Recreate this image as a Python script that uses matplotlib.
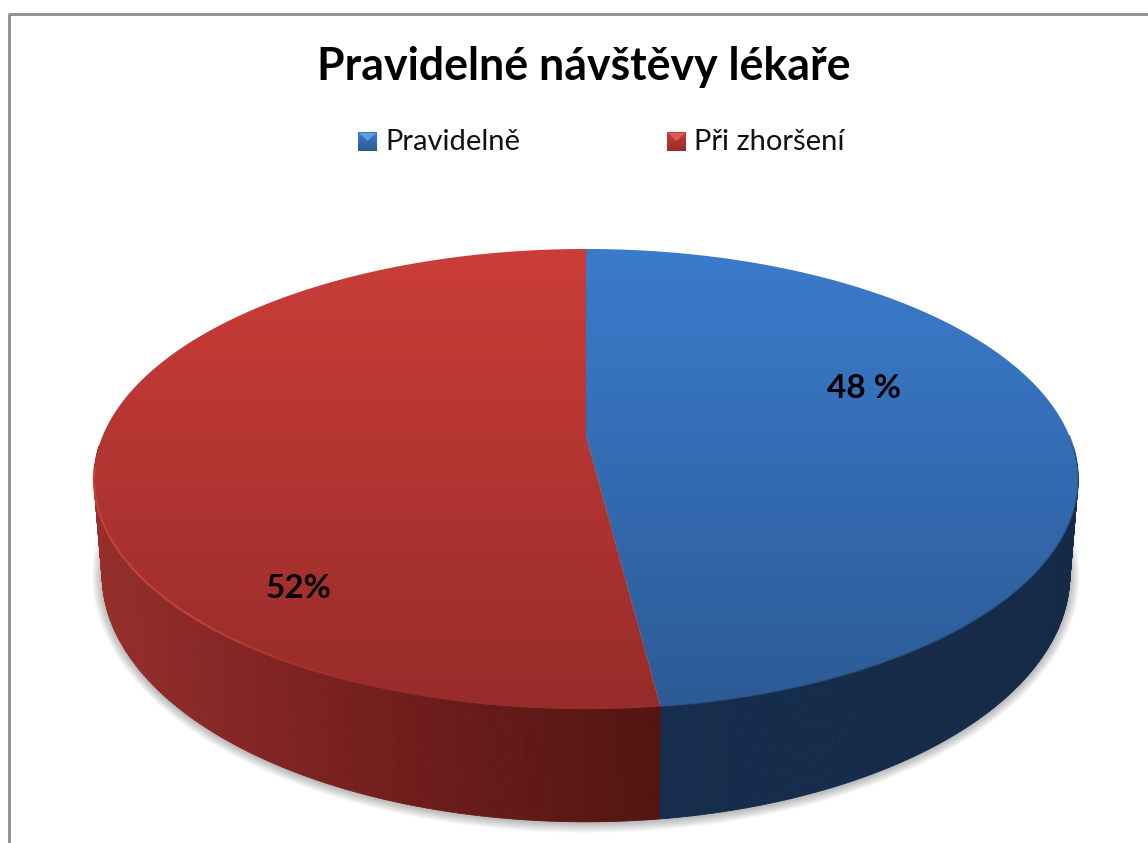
import numpy as np
import matplotlib
matplotlib.use("Agg")
import matplotlib.pyplot as plt
from matplotlib.collections import LineCollection, PolyCollection
from matplotlib.colors import LinearSegmentedColormap, to_rgb
from matplotlib.patches import Polygon

TITLE = "Pravidelné návštěvy lékaře"
CATEGORIES = ["Pravidelně", "Při zhoršení"]
VALUES = [48, 52]
VALUE_LABELS = ["48 %", "52%"]

W, H = 1148, 843
FONT = "Lato"

# top face / rim geometry in pixels, projective so the slice line lands right
TOP = dict(cx=586, cy=436, a=483.4, b=222, k=0.187)
BOT = dict(cx=586, cy=528, a=475, b=238, k=0.19)

TOP_COLORS = [("#3B7BCC", "#2C5B96"), ("#CB3D39", "#972C2A")]
SIDE_STOPS = [
    [(657, "#162D4D"), (1075, "#142A47")],
    [(95, "#962F2B"), (250, "#832624"), (420, "#6E1D1B"), (657, "#521512")],
]
LABEL_POS = [(864, 389), (298, 588)]
LEGEND_X = [358, 667]
LEGEND_LIGHT = ["#5F9BDF", "#DE5A56"]


def rim(theta, g):
    """Point on the disc edge, theta clockwise from the back of the pie."""
    u, v = np.sin(theta), -np.cos(theta)
    d = 1 - g["k"] * v
    return np.column_stack([g["cx"] + g["a"] * u / d, g["cy"] + g["b"] * v / d])


def grad_fill(ax, patch, colors, extent, zorder, vertical=True):
    ax.add_patch(patch)
    patch.set_visible(False)
    cmap = LinearSegmentedColormap.from_list("g", colors)
    z = np.linspace(0, 1, 256)
    z = z[:, None] if vertical else z[None, :]
    im = ax.imshow(z, cmap=cmap, extent=extent, aspect="auto", zorder=zorder,
                   vmin=0, vmax=1, interpolation="bilinear")
    im.set_clip_path(patch)


fig = plt.figure(figsize=(W / 100, H / 100), dpi=100)
ax = fig.add_axes([0, 0, 1, 1])
ax.axis("off")

# ---- frame (only top and left show in the crop)
ax.plot([8.5, 8.5, W + 2], [H + 2, 14, 14], color="#8C8C8C", lw=2, zorder=1)

# ---- slices
edges = np.cumsum([0] + VALUES) / sum(VALUES) * 2 * np.pi
all_t = np.linspace(0, 2 * np.pi, 721)

# soft shadow under the base
bottom = rim(all_t, BOT)
for grow in np.linspace(10, 1, 10):
    sx = (bottom[:, 0] - 586) * (1 + grow / 484) + 586
    sy = (bottom[:, 1] - 575) * (1 + grow / 247) + 575 + 1
    ax.add_patch(Polygon(np.column_stack([sx, sy]), closed=True, fc="black",
                         ec="none", alpha=0.028, zorder=2))

for i, val in enumerate(VALUES):
    ts = np.linspace(edges[i], edges[i + 1], int(val * 8))
    # side wall, one quad per step, shaded by x
    t_pts, b_pts = rim(ts, TOP), rim(ts, BOT)
    xs, cols = [c[0] for c in SIDE_STOPS[i]], [c[1] for c in SIDE_STOPS[i]]
    rgb = np.array([to_rgb(c) for c in cols])
    quads, fc = [], []
    for j in range(len(ts) - 1):
        if np.cos(ts[j]) > -0.05:  # back of the pie, hidden by the top face
            continue
        quads.append([t_pts[j], t_pts[j + 1], b_pts[j + 1], b_pts[j]])
        mx = (b_pts[j, 0] + b_pts[j + 1, 0]) / 2
        fc.append([np.interp(mx, xs, rgb[:, n]) for n in range(3)])
    ax.add_collection(PolyCollection(quads, facecolors=fc, edgecolors=fc,
                                     linewidths=0.6, zorder=3))

for i, val in enumerate(VALUES):
    ts = np.linspace(edges[i], edges[i + 1], int(val * 8))
    pts = np.vstack([[TOP["cx"], TOP["cy"]], rim(ts, TOP)])
    grad_fill(ax, Polygon(pts, closed=True, transform=ax.transData), TOP_COLORS[i],
              (80, 1090, 712, 247), zorder=4)

# bevel on the red edge, fading toward the front
ts = np.linspace(np.radians(200), np.radians(262), 120)
p = rim(ts, TOP)
segs = np.stack([p[:-1], p[1:]], axis=1)
fade = np.clip((ts[:-1] - ts[0]) / np.radians(25), 0, 1)
seg_cols = [(0.81, 0.27, 0.25, 0.8 * a) for a in fade]
ax.add_collection(LineCollection(segs, colors=seg_cols, linewidths=1.6, zorder=5))
ts = np.linspace(np.radians(90), np.radians(172), 160)
ax.plot(*rim(ts, TOP).T, color="#2A5285", lw=1.2, alpha=0.6, zorder=5)

# ---- text
ax.text(584, 67, TITLE, ha="center", va="center", fontsize=32.1, fontweight="bold",
        family=FONT, color="black", zorder=6)
for i, (x, y) in enumerate(LABEL_POS):
    ax.text(x, y, VALUE_LABELS[i], ha="center", va="center", fontsize=24,
            fontweight="bold", family=FONT, color="black", zorder=6)

# ---- legend with bevelled swatches
for i, name in enumerate(CATEGORIES):
    x0 = LEGEND_X[i]
    sw = Polygon([[x0, 132], [x0 + 19, 132], [x0 + 19, 151], [x0, 151]], closed=True,
                 transform=ax.transData)
    grad_fill(ax, sw, TOP_COLORS[i], (x0, x0 + 19, 151, 132), zorder=6)
    ax.add_patch(Polygon([[x0 + 1, 133], [x0 + 18, 133], [x0 + 9.5, 141]], closed=True,
                         fc=LEGEND_LIGHT[i], ec="none", zorder=7))
    ax.text(x0 + 27, 142, name, ha="left", va="center", fontsize=21, family=FONT,
            color="#111111", zorder=6)

ax.set_xlim(0, W)
ax.set_ylim(H, 0)
fig.savefig("out.png", dpi=100, facecolor="white")
